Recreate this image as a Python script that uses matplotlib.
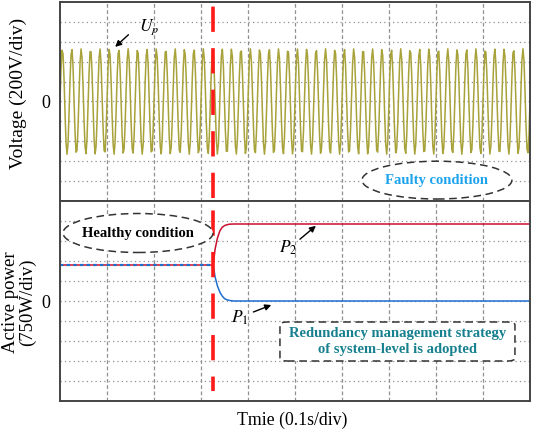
import numpy as np
import matplotlib
matplotlib.use("Agg")
import matplotlib.pyplot as plt
from matplotlib.patches import Ellipse, FancyBboxPatch

plt.rcParams['font.family'] = ['Liberation Serif', 'DejaVu Serif']

# ---- data (in scope divisions) ----
n_div_x = 10
n_div_y = 10
fault_time = 3.26              # div
voltage_amplitude = 2.65       # div (200 V/div)
voltage_freq_cycles = 50       # cycles over 10 div (1 s)
voltage_samples = 470          # oscilloscope display points

# power curves (750 W/div): key points
p_time = [0.0, 3.26, 3.30, 3.35, 3.40, 3.45, 3.50, 3.55, 3.60, 3.70, 3.80, 10.0]
p2_vals = [1.8, 1.8, 2.6, 3.15, 3.5, 3.68, 3.77, 3.81, 3.84, 3.85, 3.85, 3.85]
p1_vals = [1.8, 1.8, 1.2, 0.75, 0.45, 0.25, 0.12, 0.06, 0.03, 0.0, 0.0, 0.0]

fig = plt.figure(figsize=(5.33, 4.34), dpi=100)
W, H = 533, 434
left, right = 60, 530
top1, mid, bot = 2, 201, 401
ax1 = fig.add_axes([left / W, 1 - mid / H, (right - left) / W, (mid - top1) / H])
ax2 = fig.add_axes([left / W, 1 - bot / H, (right - left) / W, (bot - mid) / H])

edge = '#444444'
for ax in (ax1, ax2):
    ax.set_xlim(0, n_div_x)
    ax.set_ylim(-n_div_y / 2, n_div_y / 2)
    for x in range(1, n_div_x):
        ax.axvline(x, color='#909090', lw=0.9, ls=(0, (3, 2)), zorder=1)
    for y in range(-4, 5):
        ax.axhline(y, color='#909090', lw=0.9, ls=(0, (1, 2.5)), zorder=1)
    ax.set_xticks([])
    ax.set_yticks([0])
    ax.set_yticklabels(['0'], fontsize=13)
    ax.tick_params(axis='y', length=0, pad=7)
    for s in ax.spines.values():
        s.set_color(edge)
        s.set_linewidth(1.4)
        s.set_zorder(10)

# voltage waveform
t = np.linspace(0, n_div_x, voltage_samples)
v = voltage_amplitude * np.sin(2 * np.pi * voltage_freq_cycles * t / n_div_x)
ax1.plot(t, v, color='#a8a23a', lw=1.1, zorder=3)

# power curves
ax2.plot(p_time, p2_vals, color='#c8102e', lw=1.1, zorder=3)
fi = p_time.index(fault_time)
ax2.plot(p_time[fi:], p1_vals[fi:], color='#1e6fd0', lw=1.1, zorder=4)
ax2.plot(p_time[:fi + 1], p1_vals[:fi + 1], color='#1e6fd0', lw=1.6,
         ls=(0, (1.5, 1.5)), zorder=4)

# fault line
ax1.axvline(fault_time, ymin=0.015, ymax=0.985, color='#ff1a1a', lw=2.6,
            ls=(0, (7, 4.5)), zorder=5)
ax2.axvline(fault_time, ymin=0.05, ymax=1.0, color='#ff1a1a', lw=2.6,
            ls=(3, (7, 4.5)), zorder=5)

# annotations
ax1.annotate('', xy=(1.13, 2.65), xytext=(1.5, 3.45),
             arrowprops=dict(arrowstyle='-|>', color='black', lw=1.0,
                             mutation_scale=9))
ax1.text(1.9, 3.75, r'$U_p$', fontsize=12.5, ha='center', va='center',
         math_fontfamily='stix')

ax1.add_patch(Ellipse((8.02, -3.95), 3.19, 1.9, fill=True, fc='white',
                      ec='#333333', lw=1.1, ls=(0, (5, 3)), zorder=6))
ax1.text(8.02, -3.95, 'Faulty condition', color='#1ca3ee', fontsize=10.5,
         fontweight='bold', ha='center', va='center', zorder=7)

ax2.add_patch(Ellipse((1.66, 3.4), 3.19, 1.95, fill=True, fc='white',
                      ec='#333333', lw=1.1, ls=(0, (5, 3)), zorder=6))
ax2.text(1.66, 3.4, 'Healthy condition', color='black', fontsize=10.5,
         fontweight='bold', ha='center', va='center', zorder=7)

ax2.annotate('', xy=(5.49, 3.85), xytext=(5.06, 3.0),
             arrowprops=dict(arrowstyle='-|>', color='black', lw=1.0,
                             mutation_scale=9))
ax2.text(4.85, 2.65, r'$P_2$', fontsize=12.5, ha='center', va='center',
         math_fontfamily='stix')
ax2.annotate('', xy=(4.55, -0.15), xytext=(4.06, -0.6),
             arrowprops=dict(arrowstyle='-|>', color='black', lw=1.0,
                             mutation_scale=9))
ax2.text(3.83, -0.85, r'$P_1$', fontsize=12.5, ha='center', va='center',
         math_fontfamily='stix')

ax2.add_patch(FancyBboxPatch((4.68, -3.0), 5.0, 1.95,
                             boxstyle='round,pad=0,rounding_size=0.15',
                             fill=True, fc='white', ec='#333333', lw=1.1,
                             ls=(0, (5, 3)), zorder=6))
ax2.text(7.18, -2.02, 'Redundancy management strategy\nof system-level is adopted',
         color='#17808f', fontsize=10.5, fontweight='bold', ha='center',
         va='center', linespacing=1.25, zorder=7)

# axis labels
fig.text(18 / W, 1 - 93 / H, 'Voltage (200V/div)', rotation=90, fontsize=14,
         ha='center', va='center')
fig.text(19 / W, 1 - 302 / H, 'Active power\n(750W/div)', rotation=90,
         fontsize=13.5, ha='center', va='center', linespacing=1.0)
fig.text(292 / W, 1 - 420 / H, 'Tmie (0.1s/div)', fontsize=12.8,
         ha='center', va='center')

fig.savefig('out.png', dpi=100)
